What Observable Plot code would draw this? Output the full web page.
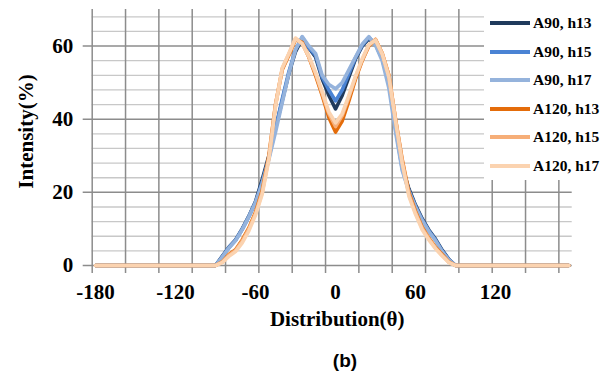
<!DOCTYPE html>
<html><head><meta charset="utf-8">
<script src="https://cdn.jsdelivr.net/npm/d3@7"></script>
<script src="https://cdn.jsdelivr.net/npm/@observablehq/plot@0.6"></script>
<style>
html,body{margin:0;padding:0;background:#fff;}
#wrap{position:relative;width:612px;height:385px;overflow:hidden;}
#legend{position:absolute;left:484px;top:8px;width:128px;height:172px;background:#fff;font:bold 15.5px "Liberation Serif","Times New Roman",serif;color:#000;}
.item{position:absolute;left:6px;height:20px;display:flex;align-items:center;white-space:nowrap;}
.sw{width:40px;height:3.8px;margin-right:3px;}
#cap{position:absolute;left:0;width:690px;top:350px;text-align:center;font:bold 19px "Liberation Sans",Arial,sans-serif;color:#000;}
</style></head><body><div id="wrap"><div id="chart"></div><div id="legend"></div><div id="cap">(b)</div></div>
<script>
// Categories (degrees)
const angles = [-180,-175,-170,-165,-160,-155,-150,-145,-140,-135,-130,-125,-120,-115,-110,-105,-100,-95,
  -90,-85,-80,-75,-70,-65,-60,-55,-50,-45,-40,-35,-30,-25,-20,-15,-10,-5,0,5,10,15,20,25,30,35,40,45,50,55,60,65,70,75,80,85,90,
  95,100,105,110,115,120,125,130,135,140,145,150,155,160,165,170,175];

const a90h13 = [0,0,0,0,0,0,0,0,0,0,0,0,0,0,0,0,0,0,
  0,2.5,5,7,10,13.5,17.5,23.5,30,37.5,45,52.5,58.5,62,59.5,57,51,46.5,42.8,46.5,51.5,56.5,60,62,60.5,56.5,50,38,27,21,16.5,12.8,9.7,7.2,4.2,1.7,0,
  0,0,0,0,0,0,0,0,0,0,0,0,0,0,0,0,0];
const a90h15 = [0,0,0,0,0,0,0,0,0,0,0,0,0,0,0,0,0,0,
  0,2.4,4.9,6.9,9.9,13.4,17.3,22.8,29.5,37.5,45.5,53,59,62.4,59.5,57.5,51.5,48,45,48,52.5,56.8,60.2,62.4,60.5,56.5,50,37.5,26.5,20.5,16.2,12.5,9.5,7,4,1.6,0,
  0,0,0,0,0,0,0,0,0,0,0,0,0,0,0,0,0];
const a90h17 = [0,0,0,0,0,0,0,0,0,0,0,0,0,0,0,0,0,0,
  0,2.3,4.8,6.8,9.8,13.3,17.2,22.5,29,36.5,44.5,52.5,59,62.6,60,58,52,49.5,48.3,50,53.5,57,60.5,62.6,60.2,56,48.5,36.5,26,20.3,16,12.3,9.3,6.8,3.8,1.5,0,
  0,0,0,0,0,0,0,0,0,0,0,0,0,0,0,0,0];
const a120h13 = [0,0,0,0,0,0,0,0,0,0,0,0,0,0,0,0,0,0,
  0,1,3,4.3,7,10.3,14.6,20.5,30,44,53.5,57.5,61.8,61,57,52,46.5,40.5,36.5,39.5,45,51,56,60,61.8,58,52,40,29,20,14.8,10.5,7.5,5,3,1,0,
  0,0,0,0,0,0,0,0,0,0,0,0,0,0,0,0,0];
const a120h15 = [0,0,0,0,0,0,0,0,0,0,0,0,0,0,0,0,0,0,
  0,0.9,2.8,4.1,6.7,10,14.2,20,29.5,44,53.8,57.8,62,60.8,57,52.5,47,41.5,38,41,46,51.5,56.2,60.2,61.8,58,52,40,28.5,19.5,14.4,10.2,7.3,4.8,2.8,0.9,0,
  0,0,0,0,0,0,0,0,0,0,0,0,0,0,0,0,0];
const a120h17 = [0,0,0,0,0,0,0,0,0,0,0,0,0,0,0,0,0,0,
  0,0.8,2.5,3.8,6.2,9.5,13.8,19.5,29,43.5,54,58,62.2,60.6,57.2,52.8,47.5,42,39,41.5,46.5,51.8,56.5,60.4,61.6,57.8,51.5,39.5,28,19,14,9.8,7,4.6,2.6,0.8,0,
  0,0,0,0,0,0,0,0,0,0,0,0,0,0,0,0,0];

const seriesNames = ["A90, h13","A90, h15","A90, h17","A120, h13","A120, h15","A120, h17"];
const seriesValues = [a90h13,a90h15,a90h17,a120h13,a120h15,a120h17];
const seriesColors = ["#203a5c","#4a83d4","#95b3dc","#e46c0a","#f6ae78","#fbd3b0"];

const xTickLabels = [-180,-120,-60,0,60,120];
const yTickLabels = [0,20,40,60];
const yMinor = [4,8,12,16,24,28,32,36,44,48,52,56,64,68];
// category boundaries every 5 categories (Excel tick interval)
const xGrid = [-182.5,-157.5,-132.5,-107.5,-82.5,-57.5,-32.5,-7.5,17.5,42.5,67.5,92.5,117.5,142.5,167.5];

const font = '"Liberation Serif", "Times New Roman", serif';

const lineMarks = seriesNames.map((name, k) =>
  Plot.line(angles.map((a, i) => ({angle: a, value: seriesValues[k][i]})), {
    x: "angle", y: "value", stroke: seriesColors[k], strokeWidth: 3.6,
    strokeLinejoin: "round", strokeLinecap: "round"
  })
);

const chart = Plot.plot({
  width: 612, height: 345,
  marginLeft: 91.7, marginRight: 40.3, marginTop: 9, marginBottom: 80,
  x: {type: "linear", domain: [-182.5, 177.5]},
  y: {domain: [0, 70]},
  style: {fontFamily: font, fontWeight: "bold", fontSize: "21px", color: "#000", background: "#fff", overflow: "visible"},
  marks: [
    Plot.ruleY(yMinor, {stroke: "#c8c8c8", strokeWidth: 1.3}),
    Plot.ruleX(xGrid, {stroke: "#8c8c8c", strokeWidth: 1.5, insetBottom: -8}),
    Plot.ruleY(yTickLabels, {stroke: "#8c8c8c", strokeWidth: 1.5, insetLeft: -9}),
    Plot.axisX(xTickLabels, {tickSize: 0, tickPadding: 19, tickFormat: d => String(d), fontSize: 21, fontWeight: "bold", fontFamily: font, label: null, fill: "#000"}),
    Plot.axisY(yTickLabels, {tickSize: 0, tickPadding: 19, tickFormat: d => String(d), fontSize: 21, fontWeight: "bold", fontFamily: font, label: null, fill: "#000"}),
    ...lineMarks,
    Plot.text(["Distribution(θ)"], {frameAnchor: "bottom", dx: 5, dy: 60, fontSize: 21, fontWeight: "bold", fontFamily: font, fill: "#000"}),
    Plot.text(["Intensity(%)"], {frameAnchor: "left", textAnchor: "middle", dx: -66, dy: -6, rotate: -90, fontSize: 21, fontWeight: "bold", fontFamily: font, fill: "#000"})
  ]
});
document.getElementById("chart").appendChild(chart);

const legend = document.getElementById("legend");
const centers = [15, 44, 72, 101, 129, 158];
seriesNames.forEach((name, k) => {
  const it = document.createElement("div");
  it.className = "item";
  it.style.top = (centers[k] - 10) + "px";
  const sw = document.createElement("div");
  sw.className = "sw";
  sw.style.background = seriesColors[k];
  const tx = document.createElement("span");
  tx.textContent = name;
  it.appendChild(sw); it.appendChild(tx);
  legend.appendChild(it);
});
</script>
</body></html>
